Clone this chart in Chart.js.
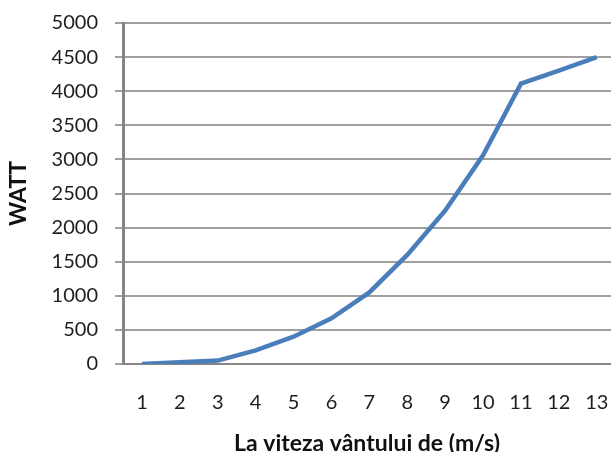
<!DOCTYPE html>
<html>
<head>
<meta charset="utf-8">
<script src="https://cdn.jsdelivr.net/npm/chart.js@4/dist/chart.umd.min.js"></script>
<style>
  html, body { margin: 0; padding: 0; background: #fff; }
  #wrap { width: 611px; height: 452px; }
</style>
</head>
<body>
<div id="wrap"><canvas id="powerChart" width="611" height="452"></canvas></div>
<script>
// ─── DATA ───
const windSpeeds = [1, 2, 3, 4, 5, 6, 7, 8, 9, 10, 11, 12, 13];
const powerWatt = [0, 25, 50, 200, 400, 670, 1050, 1600, 2250, 3060, 4110, 4300, 4500];
const yTicks = [0, 500, 1000, 1500, 2000, 2500, 3000, 3500, 4000, 4500, 5000];
const yTitle = 'WATT';
const xTitle = 'La viteza vântului de (m/s)';

const tickFont = { family: 'Lato', size: 20 };
const titleFont = { family: 'Lato', size: 23, weight: 'bold' };

// ─── CREATE THE CHART ───
const ctx = document.getElementById('powerChart').getContext('2d');
const powerChart = new Chart(ctx, {
    type: 'line',
    data: {
        datasets: [{
            data: windSpeeds.map((v, i) => ({ x: v, y: powerWatt[i] })),
            borderColor: '#4a7ebb',
            borderWidth: 4.5,
            pointRadius: 0,
            tension: 0,
            fill: false
        }]
    },
    options: {
        responsive: false,
        animation: false,
        layout: { padding: { top: 23, right: 0, bottom: 0, left: 0 } },
        plugins: {
            legend: { display: false },
            tooltip: { enabled: false }
        },
        scales: {
            x: {
                type: 'linear',
                min: 0.5,
                max: 13.376,
                afterBuildTicks: axis => { axis.ticks = windSpeeds.map(v => ({ value: v })); },
                afterFit: scale => {
                    scale.height = 88;
                    scale.paddingLeft = 0;
                    scale.paddingRight = 0;
                },
                grid: { display: false, drawTicks: false },
                border: { display: true, color: '#868686', width: 2 },
                ticks: { color: '#1e1e1e', font: tickFont, padding: 27, maxRotation: 0, autoSkip: false,
                         callback: v => String(v) },
                title: { display: true, text: xTitle, color: '#111', font: titleFont, padding: { top: 0, bottom: -5 } }
            },
            y: {
                min: 0,
                max: 5000,
                afterBuildTicks: axis => { axis.ticks = yTicks.map(v => ({ value: v })); },
                afterFit: scale => {
                    scale.width = 123;
                    scale.paddingTop = 0;
                    scale.paddingBottom = 0;
                },
                grid: { color: '#a0a0a0', lineWidth: 2, tickLength: 8, tickColor: '#a0a0a0' },
                border: { display: true, color: '#868686', width: 3 },
                ticks: { color: '#1e1e1e', font: tickFont, padding: 17, callback: v => String(v) },
                title: { display: true, text: yTitle, color: '#111', font: titleFont, padding: { top: 5, bottom: 0 } }
            }
        }
    }
});
</script>
</body>
</html>
